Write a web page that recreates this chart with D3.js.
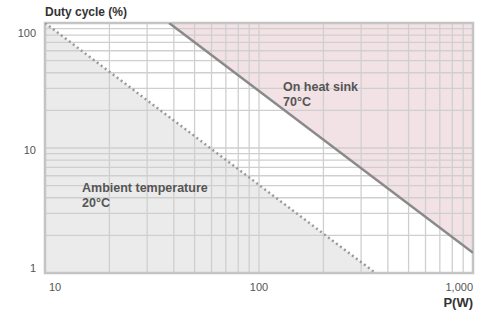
<!DOCTYPE html>
<html>
<head>
<meta charset="utf-8">
<script src="https://cdn.jsdelivr.net/npm/d3@7"></script>
<style>
  body { margin: 0; background: #fff; }
  text { font-family: "Liberation Sans", Arial, sans-serif; }
</style>
</head>
<body>
<svg width="488" height="313"></svg>
<script>
// power axis (W) and duty cycle axis (%)
var xTicks = [10, 100, 1000];
var xTickLabels = ["10", "100", "1,000"];
var yTicks = [1, 10, 100];
var yTickLabels = ["1", "10", "100"];

// ambient temperature 20°C limit (dotted)
var ambientP = [10, 350];
var ambientD = [100, 1];
// on heat sink 70°C limit (solid)
var sinkP = [38, 1000];
var sinkD = [100, 1.45];

function dutyChart() {
    var svg = d3.select("svg"),
        x0 = 45, x1 = 473, y0 = 23, y1 = 273;

    var x = d3.scaleLog().domain([10, 1000]).range([x0, x1]);
    var y = d3.scaleLog().domain([1, 100]).range([y1, y0]);

    var line = d3.line()
        .x(function(d) { return x(d[0]); })
        .y(function(d) { return y(d[1]); });

    var ambient = ambientP.map(function(p, i) { return [p, ambientD[i]]; });
    var sink = sinkP.map(function(p, i) { return [p, sinkD[i]]; });

    // gray area under the ambient line
    svg.append("path")
        .attr("d", line(ambient.concat([[10, 1]])) + "Z")
        .style("fill", "#ebebeb");

    // pink area above the heat sink line
    svg.append("path")
        .attr("d", line(sink.concat([[1000, 100]])) + "Z")
        .style("fill", "#f3e2e5");

    // grid
    var xGrid = x.ticks().filter(function(v) { return v > 10 && v < 1000; });
    var yGrid = y.ticks().filter(function(v) { return v > 1 && v < 100; });

    svg.selectAll(".vgrid")
        .data(xGrid)
        .enter().append("line")
        .attr("class", "vgrid")
        .attr("x1", function(d) { return x(d); })
        .attr("x2", function(d) { return x(d); })
        .attr("y1", y0)
        .attr("y2", y1)
        .style("stroke", "#cfcfcf")
        .style("stroke-width", 1.3);

    svg.selectAll(".hgrid")
        .data(yGrid)
        .enter().append("line")
        .attr("class", "hgrid")
        .attr("x1", x0)
        .attr("x2", x1)
        .attr("y1", function(d) { return y(d); })
        .attr("y2", function(d) { return y(d); })
        .style("stroke", "#cfcfcf")
        .style("stroke-width", 1.3);

    // frame
    svg.append("rect")
        .attr("x", x0)
        .attr("y", y0)
        .attr("width", x1 - x0)
        .attr("height", y1 - y0)
        .style("fill", "none")
        .style("stroke", "#c4c4c4")
        .style("stroke-width", 2.5);

    // limit lines
    svg.append("clipPath").attr("id", "plot")
        .append("rect").attr("x", x0).attr("y", y0)
        .attr("width", x1 - x0).attr("height", y1 - y0);

    svg.append("path")
        .attr("d", line(ambient))
        .attr("clip-path", "url(#plot)")
        .style("fill", "none")
        .style("stroke", "#9a9a9a")
        .style("stroke-width", 2.5)
        .style("stroke-dasharray", "2,3");

    svg.append("path")
        .attr("d", line(sink))
        .attr("clip-path", "url(#plot)")
        .style("fill", "none")
        .style("stroke", "#8a8a8a")
        .style("stroke-width", 2.5);

    // tick labels
    svg.selectAll(".xlab")
        .data(xTicks)
        .enter().append("text")
        .attr("class", "xlab")
        .attr("x", function(d, i) { return i == 0 ? x(d) + 4 : x(d); })
        .attr("y", 291)
        .style("text-anchor", function(d, i) { return i == 0 ? "start" : (i == 2 ? "end" : "middle"); })
        .style("font-size", "11px")
        .style("fill", "#555")
        .text(function(d, i) { return xTickLabels[i]; });

    svg.selectAll(".ylab")
        .data(yTicks)
        .enter().append("text")
        .attr("class", "ylab")
        .attr("x", 36)
        .attr("y", function(d, i) { return i == 0 ? y(d) - 1 : (i == 2 ? y(d) + 14 : y(d) + 6); })
        .style("text-anchor", "end")
        .style("font-size", "11px")
        .style("fill", "#555")
        .text(function(d, i) { return yTickLabels[i]; });

    // axis titles
    svg.append("text")
        .attr("x", 45).attr("y", 16)
        .style("font-size", "12px").style("font-weight", "bold").style("fill", "#333")
        .text("Duty cycle (%)");

    svg.append("text")
        .attr("x", 473).attr("y", 307)
        .style("text-anchor", "end")
        .style("font-size", "13px").style("font-weight", "bold").style("fill", "#333")
        .text("P(W)");

    // series labels
    var notes = [
      { text: ["On heat sink", "70°C"], x: 283, y: 91 },
      { text: ["Ambient temperature", "20°C"], x: 82, y: 192 }
    ];
    notes.forEach(function(n) {
      n.text.forEach(function(t, i) {
        svg.append("text")
            .attr("x", n.x).attr("y", n.y + i * 14.5)
            .style("font-size", "12.5px").style("font-weight", "bold").style("fill", "#555")
            .text(t);
      });
    });
}

dutyChart();
</script>
</body>
</html>
